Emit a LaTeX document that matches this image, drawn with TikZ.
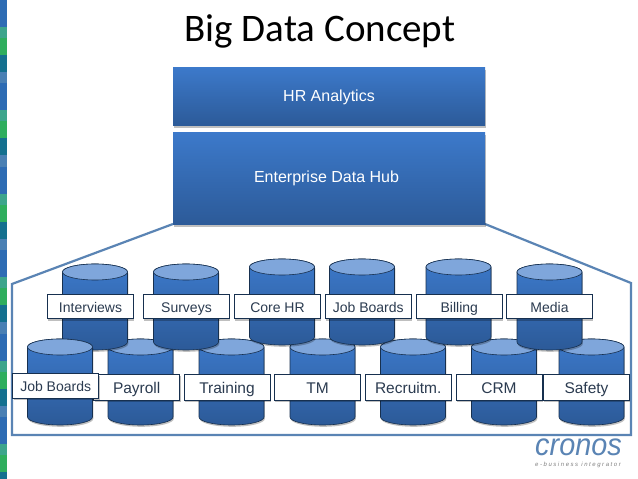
\documentclass[tikz,border=0pt]{standalone}
\usepackage{fontspec}
\setmainfont{Liberation Sans}
\newfontfamily\titlefont{Carlito}
\usepackage{xcolor}
\usetikzlibrary{shadows}

\definecolor{boxtop}{HTML}{3C79CA}
\definecolor{boxmid}{HTML}{3770BB}
\definecolor{boxbot}{HTML}{2C5A98}
\definecolor{capfill}{HTML}{7FA6DB}
\definecolor{navy}{HTML}{17304F}
\definecolor{housecol}{HTML}{5A84B4}
\definecolor{lbltext}{HTML}{2B3B50}
\definecolor{stripblue}{HTML}{2E6CB4}
\definecolor{stripteal}{HTML}{3DA58C}
\definecolor{stripgreen}{HTML}{2FAE5E}
\definecolor{stripdark}{HTML}{14708F}
\definecolor{stripsteel}{HTML}{4A80B4}

\tikzset{
	softshadow/.style={general shadow={shadow xshift=0.8pt,shadow yshift=-1.8pt,fill=black,opacity=0.25}},
	hubbox/.style={rectangle,inner sep=0pt,text=white,top color=boxtop,middle color=boxmid,bottom color=boxbot,softshadow,text height=10pt,text depth=0pt,font=\fontsize{16}{18}\selectfont},
	lblbox/.style={rectangle,draw=navy,line width=0.7pt,fill=white,text=lbltext,inner sep=0pt,softshadow,minimum width=86pt,minimum height=24.5pt,text depth=0pt},
	lblsmall/.style={lblbox,text height=11.6pt,font=\fontsize{14}{16}\selectfont},
	lblbig/.style={lblbox,minimum height=26pt,text height=13pt,font=\fontsize{15.5}{18}\selectfont},
	dbcyl/.pic={
		\path [softshadow,draw=navy,line width=0.6pt,top color=boxtop,middle color=boxmid,bottom color=boxbot]
			(-32.5,0) -- (-32.5,-70) arc[start angle=180,end angle=360,x radius=32.5,y radius=8] -- (32.5,0)
			arc[start angle=0,end angle=180,x radius=32.5,y radius=8] -- cycle;
		\draw [navy,line width=0.6pt,fill=capfill] (0,0) ellipse[x radius=32.5,y radius=8];
	}
}

\begin{document}
\begin{tikzpicture}[x=1pt,y=1pt]
	\useasboundingbox (0,0) rectangle (638,479);
	\fill [white] (0,0) rectangle (638,479);

	% strip on the left
	\foreach \y in {0,83.5,167,250.5,334,417.5}{
		\fill [stripblue] (0,479-\y) rectangle (7,479-\y-27);
		\fill [stripteal] (0,479-\y-27) rectangle (7,479-\y-38);
		\fill [stripgreen] (0,479-\y-38) rectangle (7,479-\y-55);
		\fill [stripdark] (0,479-\y-55) rectangle (7,479-\y-72);
		\fill [stripsteel] (0,479-\y-72) rectangle (7,479-\y-83.5);
	}

	\node (title) at (320,448) {\titlefont\fontsize{39}{42}\selectfont Big Data Concept};

	% house
	\draw [housecol,line width=2.2pt,line join=miter] (173,255) -- (12,195) -- (12,44) -- (631,44) -- (631,196) -- (485,255);

	\node [hubbox,minimum width=312pt,minimum height=58pt] (hr) at (329,382) {HR Analytics};
	\node [hubbox,minimum width=312pt,minimum height=92pt,text height=7.4pt] (hub) at (329,300) {Enterprise Data Hub\hspace*{5pt}};

	% back row of the bottom line
	\pic (payrollcyl) at (140.5,132) {dbcyl};
	\pic (trainingcyl) at (231.5,132) {dbcyl};
	\pic (tmcyl) at (322.5,132) {dbcyl};
	\pic (recruitcyl) at (413,132) {dbcyl};
	\pic (crmcyl) at (504,132) {dbcyl};
	\pic (safetycyl) at (591.5,132) {dbcyl};

	% top line
	\pic (corecyl) at (282,212) {dbcyl};
	\pic (jobstopcyl) at (362,212) {dbcyl};
	\pic (billingcyl) at (458.5,212) {dbcyl};
	\pic (interviewcyl) at (95,207) {dbcyl};
	\pic (surveycyl) at (186,207) {dbcyl};
	\pic (mediacyl) at (549.5,207) {dbcyl};
	\pic (jobslowcyl) at (60,132) {dbcyl};

	% labels
	\node [lblsmall] (interviews) at (90.5,172.5) {Interviews};
	\node [lblsmall] (surveys) at (186.5,172.5) {Surveys};
	\node [lblsmall] (corehr) at (277.5,172.5) {Core HR};
	\node [lblsmall] (jobstop) at (368.3,172.5) {Job Boards};
	\node [lblsmall] (billing) at (459.3,172.5) {Billing};
	\node [lblsmall] (media) at (549.5,172.5) {Media};

	\node [lblbig] (payroll) at (136.7,92) {Payroll};
	\node [lblbig] (training) at (227,92) {Training};
	\node [lblbig] (tm) at (317.5,92) {TM};
	\node [lblbig] (recruit) at (408.2,92) {Recruitm.};
	\node [lblbig] (crm) at (499,92) {CRM};
	\node [lblbig] (safety) at (586.5,92) {Safety};
	\node [lblsmall] (jobslow) at (55.7,93) {Job Boards};

	% logo
	\node [text=housecol,anchor=base,inner sep=0pt,xscale=0.93,transform shape] (logo) at (578.5,23) {\fontsize{31}{33}\selectfont\itshape cronos};
	\node [text=gray,anchor=base,inner sep=0pt] (tagline) at (578,12) {\fontsize{6}{7}\selectfont\itshape\addfontfeature{LetterSpace=26}e-business integrator};
\end{tikzpicture}
\end{document}
